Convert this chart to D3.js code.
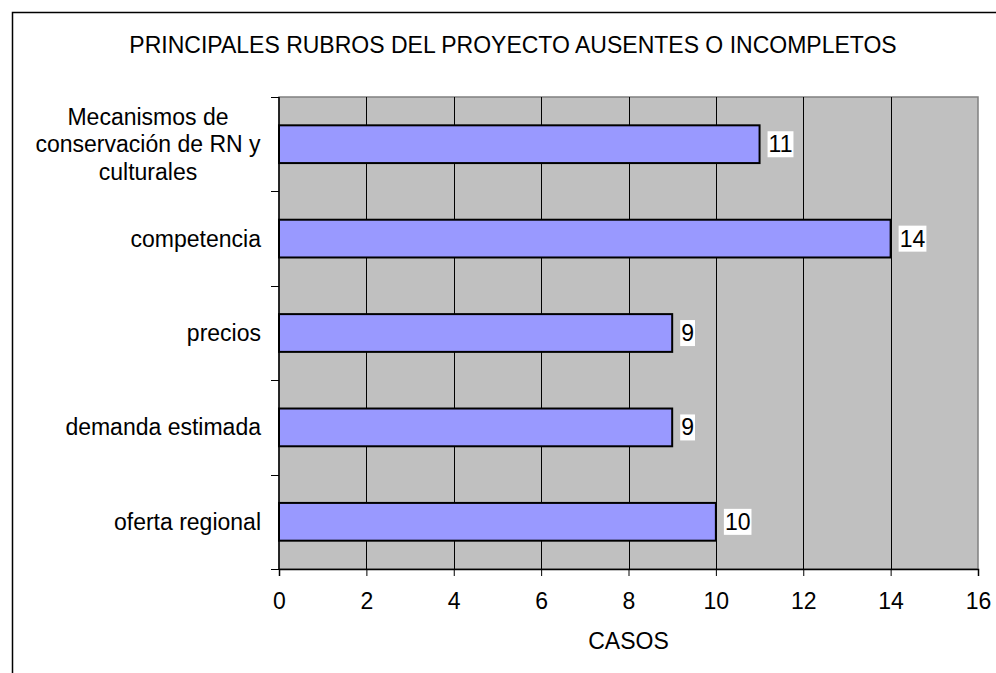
<!DOCTYPE html>
<html>
<head>
<meta charset="utf-8">
<script src="https://cdn.jsdelivr.net/npm/d3@7"></script>
<style>
  body { margin: 0; background: #fff; }
  svg { display: block; font-family: "Liberation Sans", Arial, sans-serif; }
</style>
</head>
<body>
<div id="chart"></div>
<script>
// Data
const categories = [
  "Mecanismos de|conservación de RN y|culturales",
  "competencia",
  "precios",
  "demanda estimada",
  "oferta regional"
];
const casos = [11, 14, 9, 9, 10];
const xTicks = [0, 2, 4, 6, 8, 10, 12, 14, 16];
const title = "PRINCIPALES RUBROS DEL PROYECTO AUSENTES O INCOMPLETOS";
const xLabel = "CASOS";

const width = 996, height = 673;
const margin = { top: 97, right: 18, bottom: 104, left: 279 };
const fontSize = 23;

const svg = d3.select("#chart").append("svg")
  .attr("width", width)
  .attr("height", height);

// outer frame (right and bottom edges run off the page)
svg.append("rect")
  .attr("x", 12.5).attr("y", 12.5)
  .attr("width", 1000).attr("height", 700)
  .attr("fill", "none").attr("stroke", "#000").attr("stroke-width", 1.5);

const x = d3.scaleLinear()
  .domain([0, 16])
  .range([margin.left, width - margin.right]);

const y = d3.scaleBand()
  .domain(categories)
  .range([margin.top, height - margin.bottom])
  .paddingInner(0.6)
  .paddingOuter(0.3);

const plot = svg.append("g");

// plot background
plot.append("rect")
  .attr("x", x(0)).attr("y", margin.top)
  .attr("width", x(16) - x(0))
  .attr("height", height - margin.bottom - margin.top)
  .attr("fill", "#c0c0c0")
  .attr("stroke", "#808080")
  .attr("stroke-width", 1.5);

// vertical gridlines
plot.append("g")
  .selectAll("line")
  .data(xTicks.filter(d => d > 0 && d < 16))
  .join("line")
  .attr("x1", d => Math.round(x(d)) + 0.5)
  .attr("x2", d => Math.round(x(d)) + 0.5)
  .attr("y1", margin.top)
  .attr("y2", height - margin.bottom)
  .attr("stroke", "#000")
  .attr("stroke-width", 1);

// bars
plot.append("g")
  .selectAll("rect")
  .data(casos)
  .join("rect")
  .attr("x", x(0))
  .attr("y", (d, i) => y(categories[i]))
  .attr("width", d => x(d) - x(0))
  .attr("height", y.bandwidth())
  .attr("fill", "#9999ff")
  .attr("stroke", "#000")
  .attr("stroke-width", 2);

// x axis
const xAxis = plot.append("g")
  .attr("transform", `translate(0,${height - margin.bottom})`)
  .call(d3.axisBottom(x).tickValues(xTicks).tickSize(7).tickPadding(17).tickFormat(d3.format("d")));
xAxis.select(".domain").attr("stroke", "#000").attr("stroke-width", 1.5);
xAxis.selectAll(".tick line").attr("stroke", "#000");
xAxis.selectAll("text").attr("font-size", fontSize).attr("fill", "#000")
  .attr("font-family", "Liberation Sans, Arial, sans-serif");

// y axis: ticks sit on band boundaries
const step = y.step();
const yBounds = d3.range(categories.length + 1).map(i => margin.top + i * step);
plot.append("line")
  .attr("x1", x(0)).attr("x2", x(0))
  .attr("y1", margin.top).attr("y2", height - margin.bottom)
  .attr("stroke", "#000").attr("stroke-width", 1.5);
plot.append("g")
  .selectAll("line")
  .data(yBounds)
  .join("line")
  .attr("x1", x(0) - 8).attr("x2", x(0))
  .attr("y1", d => Math.round(d) + 0.5).attr("y2", d => Math.round(d) + 0.5)
  .attr("stroke", "#000");

// category labels
const catLabels = svg.append("g")
  .selectAll("text")
  .data(categories)
  .join("text")
  .attr("font-size", fontSize)
  .attr("fill", "#000");
catLabels.each(function (d) {
  const lines = d.split("|");
  const cy = y(d) + y.bandwidth() / 2;
  const t = d3.select(this);
  if (lines.length === 1) {
    t.attr("x", x(0) - 18).attr("y", cy).attr("dy", "0.35em")
      .attr("text-anchor", "end").text(d);
  } else {
    const lh = 27.5;
    t.attr("text-anchor", "middle");
    lines.forEach((l, k) => {
      t.append("tspan")
        .attr("x", 148)
        .attr("y", cy + (k - (lines.length - 1) / 2) * lh)
        .attr("dy", "0.35em")
        .text(l);
    });
  }
});

// value labels with white box
const vl = svg.append("g").selectAll("g")
  .data(casos)
  .join("g")
  .attr("transform", (d, i) => `translate(${x(d) + 9},${y(categories[i]) + y.bandwidth() / 2})`);
vl.append("text")
  .attr("font-size", fontSize)
  .attr("dy", "0.35em")
  .attr("fill", "#000")
  .text(d => d);
vl.each(function () {
  const g = d3.select(this);
  const bb = g.select("text").node().getBBox();
  g.insert("rect", "text")
    .attr("x", bb.x - 1).attr("y", bb.y)
    .attr("width", bb.width + 2).attr("height", bb.height)
    .attr("fill", "#fff");
});

// title
svg.append("text")
  .attr("x", 513).attr("y", 45)
  .attr("dy", "0.35em")
  .attr("text-anchor", "middle")
  .attr("font-size", fontSize)
  .attr("fill", "#000")
  .text(title);

// x axis title
svg.append("text")
  .attr("x", (x(0) + x(16)) / 2).attr("y", 641)
  .attr("dy", "0.35em")
  .attr("text-anchor", "middle")
  .attr("font-size", fontSize)
  .attr("fill", "#000")
  .text(xLabel);
</script>
</body>
</html>
